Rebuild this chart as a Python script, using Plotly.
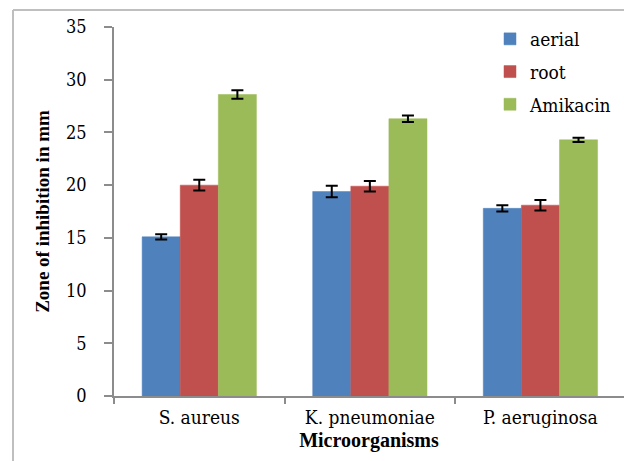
import plotly.graph_objects as go

categories = ["S. aureus", "K. pneumoniae", "P. aeruginosa"]
series_names = ["aerial", "root", "Amikacin"]
aerial = [15.1, 19.4, 17.8]
root = [20.0, 19.9, 18.1]
amikacin = [28.6, 26.3, 24.3]
aerial_err = [0.25, 0.55, 0.3]
root_err = [0.5, 0.5, 0.5]
amikacin_err = [0.4, 0.3, 0.2]
colors = ["#4F81BD", "#C0504D", "#9BBB59"]
y_ticks = [0, 5, 10, 15, 20, 25, 30, 35]

FONT = "Liberation Serif"
FONT_REG = "DejaVu Serif Condensed, DejaVu Serif, serif"

fig = go.Figure()
for name, vals, errs, col in zip(series_names, [aerial, root, amikacin],
                                 [aerial_err, root_err, amikacin_err], colors):
    fig.add_trace(go.Bar(
        x=categories, y=vals, name=name, legendgroup=name,
        marker=dict(color=col, line=dict(color=col, width=0.5)),
        error_y=dict(type="data", array=errs, visible=True,
                     color="black", thickness=2, width=6),
    ))

W, H = 624, 461
L, R, T, B = 114, 0, 27, 65
pw, ph = W - L - R, H - T - B

def px_x(px):
    return (px - L) / pw

def px_y(py):
    return (H - B - py) / ph

fig.update_layout(
    width=W, height=H,
    margin=dict(l=L, r=R, t=T, b=B),
    paper_bgcolor="white", plot_bgcolor="white",
    barmode="group", bargap=0.33, bargroupgap=0,
    font=dict(family=FONT_REG, color="black", size=18),
    showlegend=True,
    legend=dict(x=px_x(490), y=px_y(20), xanchor="left", yanchor="top",
                font=dict(family=FONT_REG, size=19, color="black"),
                bgcolor="rgba(0,0,0,0)", itemwidth=30, tracegroupgap=5),
    xaxis=dict(
        range=[-0.5, 2.49], showline=True, linecolor="#8c8c8c", linewidth=1.5,
        ticks="outside", tickson="boundaries", ticklen=6, tickcolor="#8c8c8c",
        tickwidth=1.5, showgrid=False, zeroline=False, ticklabelstandoff=3,
        tickfont=dict(family=FONT_REG, size=19, color="black"),
        title=dict(text="<b>Microorganisms</b>", standoff=6,
                   font=dict(family=FONT, size=20, color="black")),
    ),
    yaxis=dict(
        range=[0, 35], tickvals=y_ticks, showline=True, linecolor="#8c8c8c",
        linewidth=1.5, ticks="outside", ticklen=8, tickcolor="#8c8c8c",
        tickwidth=1.5, showgrid=False, zeroline=False, ticklabelstandoff=14,
        tickfont=dict(family=FONT_REG, size=18, color="black"),
        title=dict(text="<b>Zone of inhibition in mm</b>", standoff=11,
                   font=dict(family=FONT, size=19, color="black")),
    ),
    shapes=[
        dict(type="line", xref="paper", yref="paper",
             x0=px_x(13), x1=px_x(13), y0=px_y(10), y1=px_y(461),
             line=dict(color="#bfbfbf", width=2)),
        dict(type="line", xref="paper", yref="paper",
             x0=px_x(13), x1=px_x(624), y0=px_y(10), y1=px_y(10),
             line=dict(color="#bfbfbf", width=2)),
    ],
)

fig.write_html("out.html", config={"displayModeBar": False})

with open("out.html", "r", encoding="utf-8") as f:
    html = f.read()
html = html.replace("<head>", "<head><style>html,body{margin:0;padding:0;overflow:hidden;}</style>", 1)
with open("out.html", "w", encoding="utf-8") as f:
    f.write(html)
